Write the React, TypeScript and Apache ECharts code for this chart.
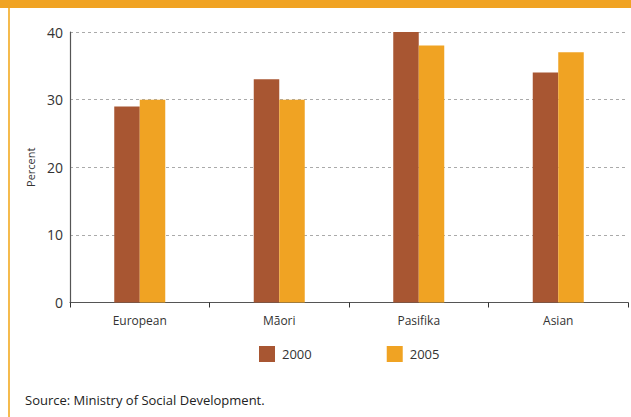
import React, { useEffect, useRef } from "react";
import * as echarts from "echarts";

const categories = ["European", "Māori", "Pasifika", "Asian"];
const series2000 = [29, 33, 40, 34];
const series2005 = [30, 30, 38, 37];
const seriesNames = ["2000", "2005"];
const yTicks = { min: 0, max: 40, interval: 10 };
const sourceText = "Source: Ministry of Social Development.";

const FONT = "'Open Sans', 'Noto Sans', sans-serif";

export default function App() {
  const ref = useRef<HTMLDivElement>(null);
  useEffect(() => {
    if (!ref.current) return;
    const chart = echarts.init(ref.current, undefined, { renderer: "svg" });
    chart.setOption({
      animation: false,
      backgroundColor: "#ffffff",
      textStyle: { fontFamily: FONT },
      grid: { left: 70, right: 3, top: 32, bottom: 114.5, containLabel: false },
      legend: {
        data: seriesNames,
        left: 259,
        top: 346,
        padding: 0,
        itemWidth: 16,
        itemHeight: 16,
        itemGap: 75,
        icon: "rect",
        textStyle: { fontSize: 13, color: "#333", fontFamily: FONT, padding: [0, 0, 0, 2] },
      },
      xAxis: {
        type: "category",
        data: categories,
        axisLine: { lineStyle: { color: "#555", width: 1.2 } },
        axisTick: { show: true, length: 5, lineStyle: { color: "#333" } },
        axisLabel: { fontSize: 12, color: "#333", margin: 12, fontFamily: FONT },
      },
      yAxis: {
        type: "value",
        min: yTicks.min,
        max: yTicks.max,
        interval: yTicks.interval,
        name: "Percent",
        nameLocation: "middle",
        nameRotate: 90,
        nameGap: 34,
        nameTextStyle: { fontSize: 11, color: "#333", fontFamily: FONT },
        axisLine: { show: true, lineStyle: { color: "#555", width: 1.2 } },
        axisTick: { show: false },
        axisLabel: { fontSize: 14, color: "#333", margin: 7, fontFamily: FONT },
        splitLine: { lineStyle: { color: "#aaa", type: [3, 3], width: 1 } },
      },
      series: [
        {
          name: seriesNames[0],
          type: "bar",
          data: series2000,
          barWidth: 25.5,
          barGap: "0%",
          itemStyle: { color: "#a85632" },
        },
        {
          name: seriesNames[1],
          type: "bar",
          data: series2005,
          barWidth: 25.5,
          barGap: "0%",
          itemStyle: { color: "#f0a323" },
        },
      ],
      graphic: [
        { type: "rect", left: 0, top: 0, shape: { width: 631, height: 8 }, style: { fill: "#f0a323" } },
        { type: "rect", left: 8, top: 8, shape: { width: 2, height: 409 }, style: { fill: "#f5bb4e" } },
        {
          type: "text",
          left: 25,
          top: 393,
          style: { text: sourceText, fontSize: 13, fill: "#222", fontFamily: FONT },
        },
      ],
    });
    return () => chart.dispose();
  }, []);
  return (
    <div
      ref={ref}
      style={{ position: "fixed", left: 0, top: 0, width: 631, height: 417 }}
    />
  );
}
